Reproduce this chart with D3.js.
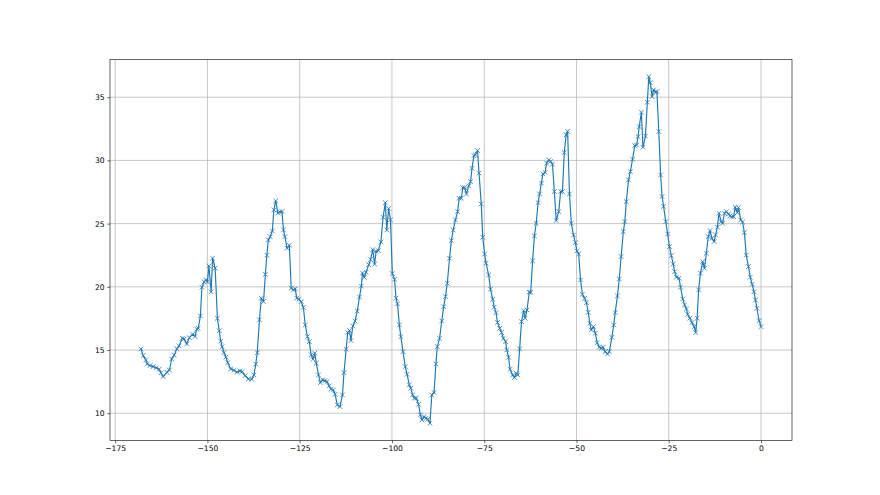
<!DOCTYPE html>
<html>
<head>
<meta charset="utf-8">
<script src="https://cdn.jsdelivr.net/npm/d3@7"></script>
<style>
	body { margin: 0; background: #fff; }
	svg { display: block; }
</style>
</head>
<body>
<svg id="chart"></svg>
<script>
// hours before now
let hours = [
	-168.0, -167.4, -166.7, -166.3, -165.6, -164.7, -163.9, -163.1, -162.6, -162.0,
	-161.0, -160.3, -159.7, -159.0, -158.3, -157.7, -156.8, -156.3, -155.6, -154.9,
	-154.0, -153.4, -152.9, -152.5, -151.9, -151.5, -150.9, -150.4, -150.0, -149.6,
	-149.0, -148.6, -147.9, -147.3, -146.8, -146.4, -146.0, -145.5, -145.0, -144.5,
	-143.7, -142.8, -142.0, -141.2, -140.6, -139.8, -138.9, -138.0, -137.4, -136.9,
	-136.5, -135.9, -135.4, -134.8, -134.3, -133.9, -133.5, -133.0, -132.4, -132.0,
	-131.5, -130.9, -130.4, -129.8, -129.4, -129.0, -128.4, -127.8, -127.3, -126.7,
	-126.2, -125.8, -125.2, -124.6, -124.0, -123.5, -122.9, -122.4, -121.9, -121.4,
	-120.9, -120.5, -119.9, -119.4, -118.8, -118.2, -117.6, -117.0, -116.5, -115.9,
	-115.4, -114.8, -114.1, -113.4, -113.0, -112.4, -112.0, -111.5, -111.1, -110.6,
	-110.0, -109.4, -108.8, -108.3, -108.0, -107.5, -107.0, -106.3, -105.8, -105.2,
	-104.7, -104.3, -103.7, -103.0, -102.4, -101.8, -101.4, -100.9, -100.4, -99.9,
	-99.3, -98.9, -98.5, -98.0, -97.6, -97.0, -96.4, -95.9, -95.3, -94.9,
	-94.4, -93.9, -93.4, -92.8, -92.3, -91.9, -91.3, -90.8, -90.3, -89.7,
	-89.2, -88.6, -88.1, -87.7, -87.1, -86.5, -86.0, -85.5, -85.0, -84.4,
	-83.9, -83.4, -82.8, -82.2, -81.8, -81.2, -80.8, -80.3, -79.8, -79.2,
	-78.7, -78.3, -77.8, -77.4, -76.8, -76.4, -75.8, -75.4, -74.9, -74.5,
	-73.8, -73.3, -72.7, -72.3, -71.8, -71.4, -70.8, -70.3, -69.8, -69.2,
	-68.9, -68.4, -68.0, -67.3, -66.8, -66.3, -65.9, -65.4, -64.9, -64.3,
	-63.9, -63.4, -62.8, -62.4, -61.9, -61.4, -60.9, -60.4, -60.0, -59.5,
	-59.1, -58.5, -58.1, -57.5, -57.0, -56.5, -56.0, -55.5, -54.8, -54.3,
	-53.8, -53.3, -52.8, -52.4, -51.9, -51.4, -50.8, -50.3, -49.9, -49.4,
	-48.9, -48.4, -47.8, -47.3, -46.8, -46.4, -46.0, -45.4, -44.9, -44.4,
	-43.8, -43.3, -42.8, -42.2, -41.6, -41.1, -40.4, -39.9, -39.5, -38.9,
	-38.4, -37.9, -37.3, -36.9, -36.5, -35.9, -35.4, -34.8, -34.2, -33.7,
	-33.3, -33.0, -32.4, -32.0, -31.3, -30.8, -30.4, -30.0, -29.5, -29.1,
	-28.6, -28.2, -27.7, -27.2, -26.8, -26.4, -25.8, -25.3, -24.8, -24.3,
	-23.8, -23.4, -22.9, -22.2, -21.8, -21.2, -20.7, -20.2, -19.9, -19.3,
	-18.7, -18.1, -17.7, -17.3, -16.9, -16.4, -15.8, -15.3, -14.8, -14.3,
	-13.8, -13.3, -12.7, -12.3, -11.8, -11.4, -10.8, -10.4, -9.9, -9.4,
	-8.8, -8.4, -7.9, -7.4, -7.0, -6.4, -6.1, -5.5, -5.0, -4.5,
	-4.0, -3.4, -2.9, -2.4, -1.9, -1.5, -1.1, -0.5, 0.0
];

// temperature readings
let temps = [
	15.09, 14.56, 14.22, 13.90, 13.77, 13.69, 13.60, 13.48, 13.20, 12.90,
	13.24, 13.42, 14.29, 14.60, 15.09, 15.33, 15.93, 15.88, 15.48, 15.98,
	16.25, 16.07, 16.65, 16.72, 17.70, 19.97, 20.39, 20.55, 20.39, 21.65,
	19.61, 22.26, 21.47, 17.51, 16.53, 15.70, 15.26, 14.79, 14.43, 14.00,
	13.50, 13.40, 13.24, 13.35, 13.30, 12.97, 12.71, 12.69, 13.03, 13.88,
	14.79, 17.39, 19.10, 18.83, 20.99, 22.50, 23.71, 23.97, 24.42, 26.08,
	26.80, 25.83, 25.93, 25.96, 24.50, 23.97, 23.05, 23.29, 19.89, 19.76,
	19.84, 19.10, 19.02, 18.83, 18.38, 16.98, 16.06, 15.66, 14.63, 14.27,
	14.75, 13.96, 13.03, 12.42, 12.64, 12.58, 12.50, 12.16, 11.90, 11.84,
	11.50, 10.66, 10.52, 11.45, 13.21, 15.06, 16.38, 16.54, 15.75, 16.90,
	17.29, 18.08, 19.19, 20.06, 21.09, 20.74, 21.16, 21.75, 22.15, 22.94,
	21.80, 22.81, 22.86, 23.55, 25.50, 26.66, 24.50, 26.20, 25.30, 21.05,
	20.60, 19.10, 18.65, 16.99, 16.06, 14.87, 13.69, 13.08, 12.24, 11.98,
	11.45, 11.19, 11.19, 10.71, 9.87, 9.47, 9.73, 9.60, 9.52, 9.21,
	11.45, 11.64, 13.90, 15.27, 15.93, 17.30, 18.43, 19.22, 20.28, 22.26,
	23.65, 24.50, 25.29, 25.95, 27.01, 27.01, 27.85, 27.85, 27.35, 27.98,
	28.32, 29.38, 30.38, 30.44, 30.78, 28.99, 26.56, 23.92, 22.60, 21.87,
	20.94, 19.81, 19.02, 18.39, 17.96, 17.17, 16.72, 16.38, 15.93, 15.66,
	15.01, 14.43, 13.48, 13.03, 12.82, 13.16, 13.03, 15.09, 17.25, 18.12,
	17.52, 18.17, 19.57, 19.57, 22.05, 24.03, 25.03, 26.66, 27.35, 28.20,
	28.93, 29.04, 29.78, 30.04, 29.91, 29.70, 27.53, 25.24, 25.95, 27.53,
	27.53, 30.62, 32.02, 32.30, 27.35, 25.03, 24.10, 23.50, 22.84, 22.60,
	20.54, 19.41, 19.09, 18.74, 17.98, 17.12, 16.59, 16.85, 16.33, 15.58,
	15.22, 15.14, 15.22, 14.87, 14.69, 14.87, 16.01, 16.98, 17.96, 19.28,
	20.62, 22.39, 24.37, 25.16, 26.74, 28.46, 29.11, 30.09, 31.17, 31.22,
	31.88, 32.67, 33.81, 31.04, 31.93, 34.60, 36.62, 36.15, 35.05, 35.58,
	35.40, 35.44, 32.28, 28.85, 27.15, 26.36, 25.16, 24.18, 23.18, 22.47,
	21.81, 21.20, 20.76, 20.68, 19.97, 19.04, 18.57, 18.25, 17.83, 17.52,
	17.17, 16.85, 16.38, 17.52, 19.76, 21.08, 22.00, 21.47, 22.66, 23.97,
	24.45, 23.84, 23.58, 24.11, 24.72, 25.82, 25.16, 25.03, 25.82, 25.95,
	25.77, 25.61, 25.55, 25.55, 26.30, 25.87, 26.26, 25.29, 25.13, 24.29,
	22.51, 21.60, 20.76, 20.20, 19.62, 18.96, 18.30, 17.33, 16.85
];

let xTicks = [-175, -150, -125, -100, -75, -50, -25, 0];
let yTicks = [10, 15, 20, 25, 30, 35];

function drawChart()
{
	let svgWidth = 880, svgHeight = 495;
	let margin = { top: 59.4, right: 88, bottom: 54.45, left: 110 };
	let width = svgWidth - margin.left - margin.right;
	let height = svgHeight - margin.top - margin.bottom;
	let blue = "#1f77b4";

	let data = hours.map((h, i) => ({ h: h, t: temps[i] }));

	let svg = d3.select("#chart")
		.attr("width", svgWidth)
		.attr("height", svgHeight);

	svg.append("rect")
		.attr("width", svgWidth)
		.attr("height", svgHeight)
		.attr("fill", "#fff");

	let g = svg.append("g")
		.attr("transform", "translate(" + margin.left + "," + margin.top + ")");

	// matplotlib style 5% padding
	let xExt = d3.extent(hours), yExt = d3.extent(temps);
	let xPad = (xExt[1] - xExt[0]) * 0.05, yPad = (yExt[1] - yExt[0]) * 0.05;

	let x = d3.scaleLinear()
		.domain([xExt[0] - xPad, xExt[1] + xPad])
		.range([0, width]);
	let y = d3.scaleLinear()
		.domain([yExt[0] - yPad, yExt[1] + yPad])
		.range([height, 0]);

	let fmt = d => (d < 0 ? "\u2212" + Math.abs(d) : "" + d);

	//grid
	g.append("g")
		.selectAll("line")
		.data(xTicks)
		.enter()
		.append("line")
		.attr("x1", d => x(d)).attr("x2", d => x(d))
		.attr("y1", 0).attr("y2", height)
		.attr("stroke", "#b0b0b0")
		.attr("stroke-width", 0.7);

	g.append("g")
		.selectAll("line")
		.data(yTicks)
		.enter()
		.append("line")
		.attr("x1", 0).attr("x2", width)
		.attr("y1", d => y(d)).attr("y2", d => y(d))
		.attr("stroke", "#b0b0b0")
		.attr("stroke-width", 0.7);

	//line
	let line = d3.line()
		.x(d => x(d.h))
		.y(d => y(d.t));

	g.append("path")
		.datum(data)
		.attr("fill", "none")
		.attr("stroke", blue)
		.attr("stroke-width", 1.15)
		.attr("stroke-linejoin", "round")
		.attr("stroke-linecap", "butt")
		.attr("d", line);

	//x markers
	let s = 2.3;
	g.append("g")
		.selectAll("path")
		.data(data)
		.enter()
		.append("path")
		.attr("d", d =>
		{
			let cx = x(d.h), cy = y(d.t);
			return "M" + (cx - s) + "," + (cy - s) + "L" + (cx + s) + "," + (cy + s) +
				"M" + (cx - s) + "," + (cy + s) + "L" + (cx + s) + "," + (cy - s);
		})
		.attr("fill", "none")
		.attr("stroke", blue)
		.attr("stroke-width", 0.8);

	//axes
	let xAxis = g.append("g")
		.attr("transform", "translate(0," + height + ")")
		.call(d3.axisBottom(x).tickValues(xTicks).tickFormat(fmt).tickSize(2.7).tickPadding(2.7));
	let yAxis = g.append("g")
		.call(d3.axisLeft(y).tickValues(yTicks).tickFormat(fmt).tickSize(2.7).tickPadding(2.7));

	[xAxis, yAxis].forEach(a =>
	{
		a.select(".domain").remove();
		a.selectAll("line").attr("stroke", "#000").attr("stroke-width", 0.6);
		a.selectAll("text")
			.attr("fill", "#000")
			.attr("font-family", "DejaVu Sans")
			.attr("font-size", "7.6px");
	});

	//frame
	g.append("rect")
		.attr("width", width)
		.attr("height", height)
		.attr("fill", "none")
		.attr("stroke", "#000")
		.attr("stroke-width", 0.6);
}

drawChart();
</script>
</body>
</html>
